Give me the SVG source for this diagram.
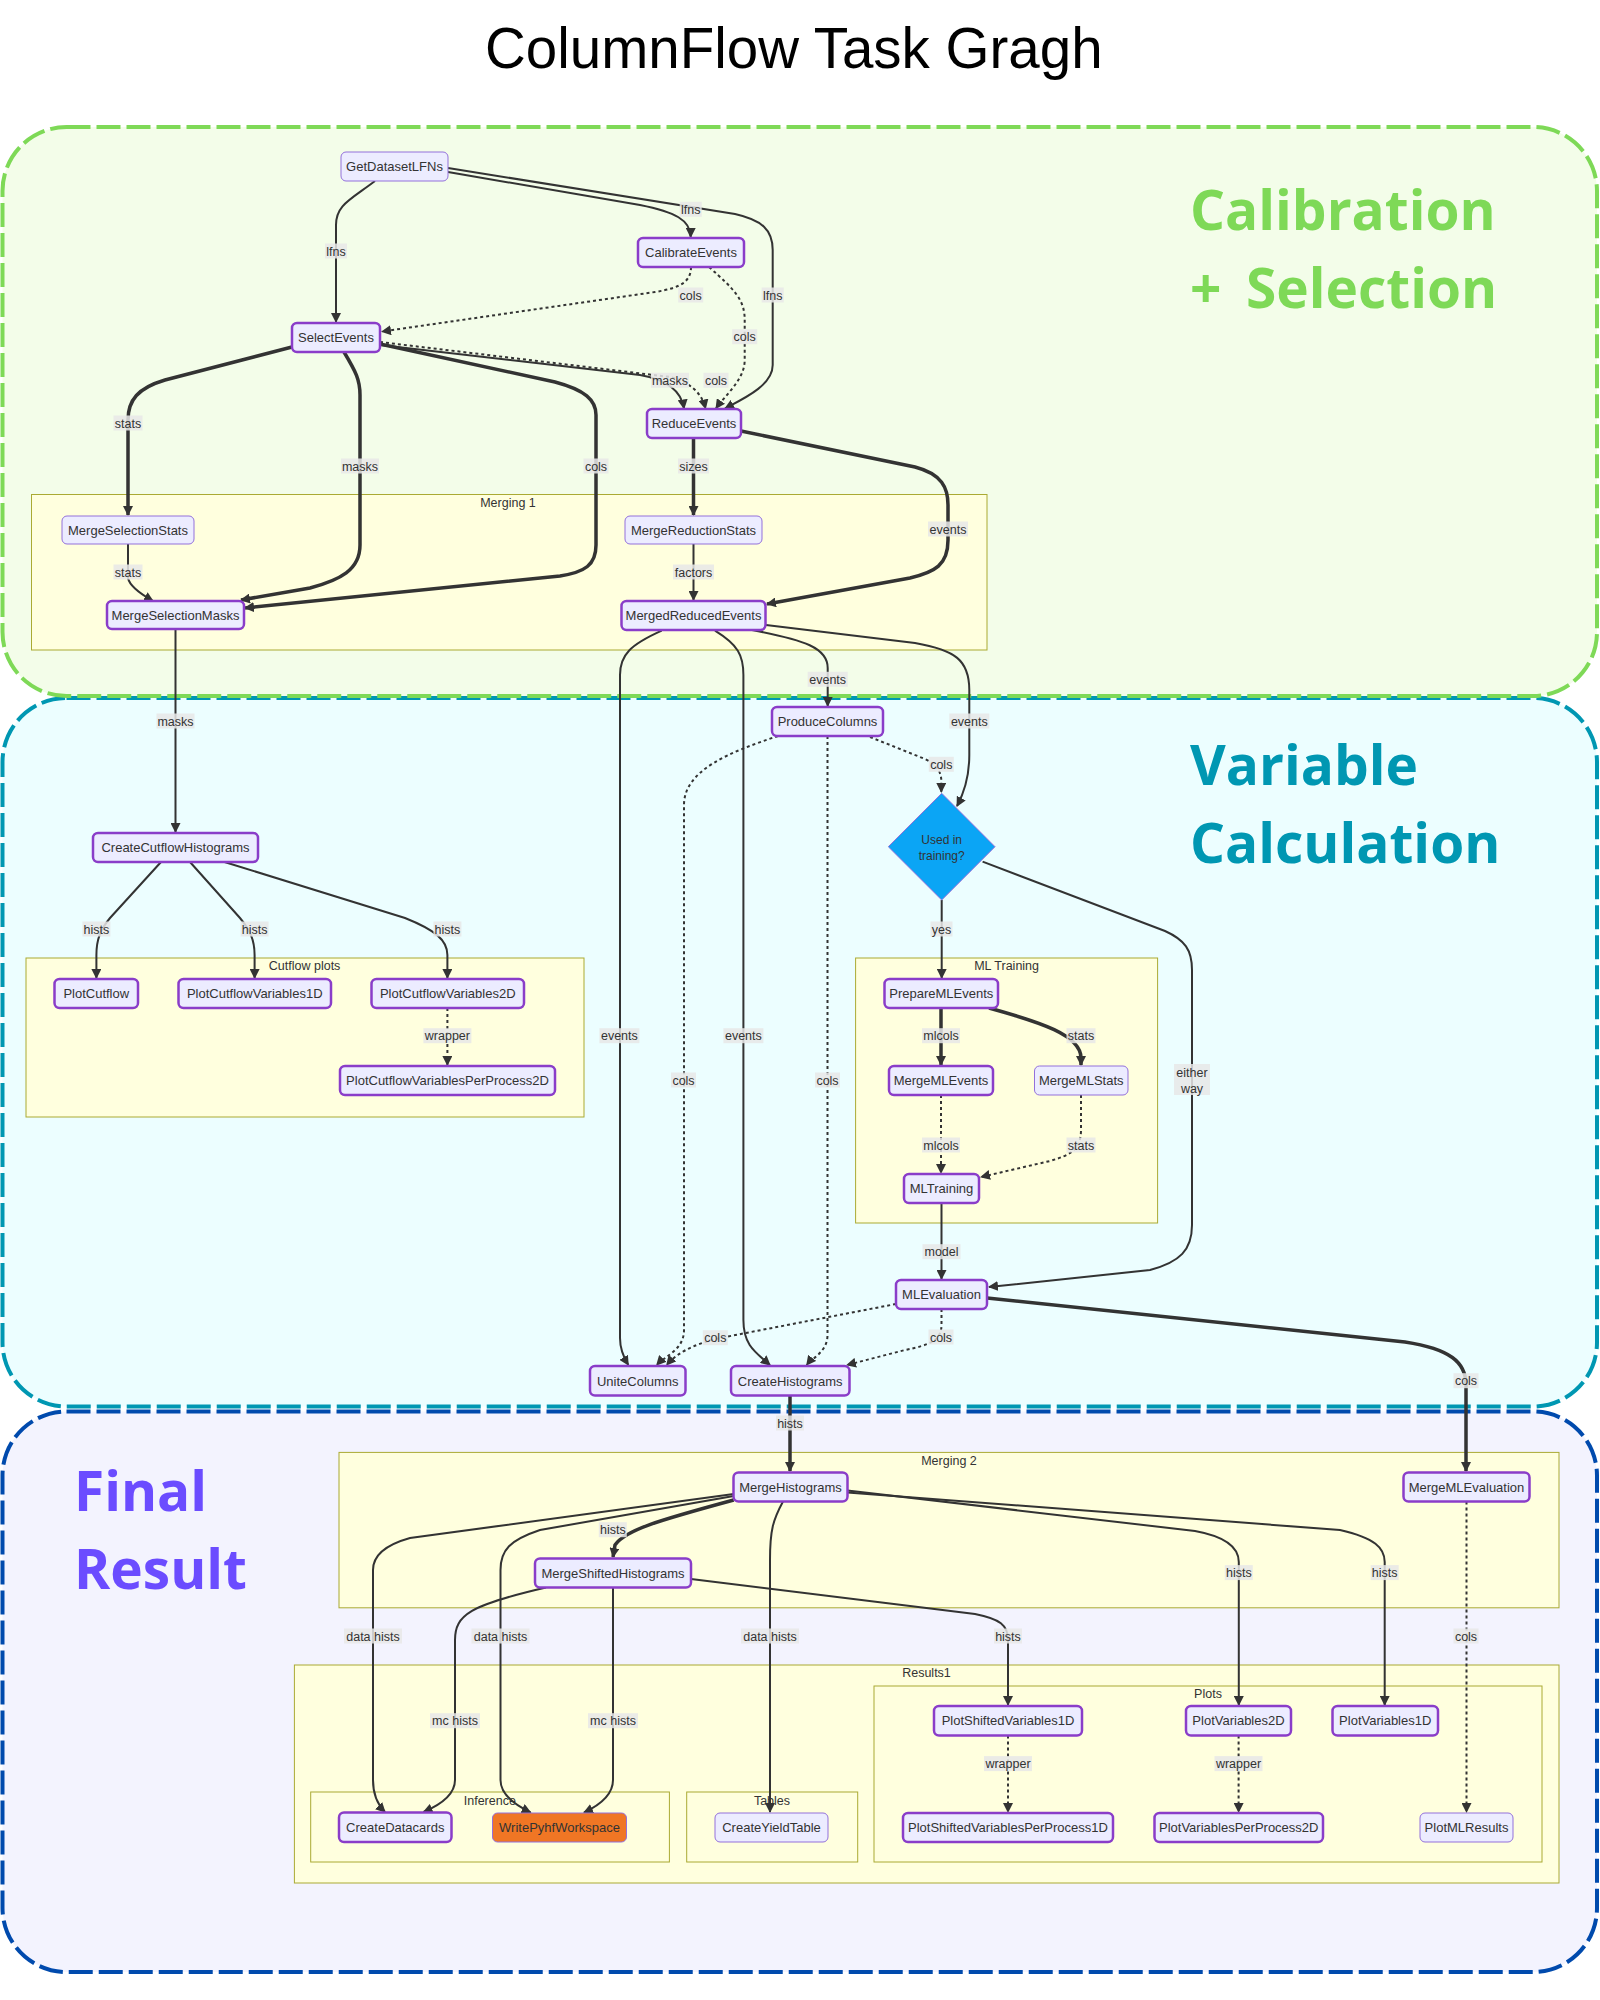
<svg xmlns="http://www.w3.org/2000/svg" width="1600" height="2000" viewBox="0 0 1600 2000">
<defs>
<style>
.nt{font-family:"Liberation Sans",Arial,sans-serif;font-size:13px;fill:#333;text-anchor:middle}
.thick{fill:#ECECFF;stroke:#8a3dc9;stroke-width:2.5}
.light{fill:#ECECFF;stroke:#9370DB;stroke-width:1}
.orange{fill:#f07624;stroke:#9370DB;stroke-width:1}
.sg{fill:#ffffde;stroke:#aaaa33;stroke-width:1}
.sgt{font-family:"Liberation Sans",Arial,sans-serif;font-size:12.5px;fill:#333;text-anchor:middle}
.e{fill:none;stroke:#333;stroke-width:2;marker-end:url(#arr)}
.e.tk{stroke-width:3.5}
.e.dt{stroke-dasharray:3 3}
.lb rect{fill:#e8e8e8;fill-opacity:0.85}
.lb text{font-family:"Liberation Sans",Arial,sans-serif;font-size:12.5px;fill:#333;text-anchor:middle}
.big{font-family:"Open Sans","Noto Sans",sans-serif;font-weight:700;font-size:55px}
</style>
<marker id="arr" viewBox="0 0 10 10" refX="9" refY="5" markerUnits="userSpaceOnUse" markerWidth="10" markerHeight="10" orient="auto">
<path d="M0,0 L10,5 L0,10 z" fill="#333"/>
</marker>
</defs>
<rect width="1600" height="2000" fill="#ffffff"/>
<text x="485" y="68" font-family="Liberation Sans,Arial,sans-serif" font-size="56.5" fill="#000">ColumnFlow Task Gragh</text>

<g id="sections">
<rect x="2.5" y="1411.5" width="1594.5" height="560.5" rx="64" fill="#f3f3fe" stroke="#004aad" stroke-width="4" stroke-dasharray="24 6"/>
<rect x="2.5" y="698" width="1594.5" height="708.5" rx="64" fill="#ecfeff" stroke="#0097b2" stroke-width="4" stroke-dasharray="24 6"/>
<rect x="2.5" y="127" width="1594.5" height="569" rx="64" fill="#f3fde9" stroke="#7ed957" stroke-width="4" stroke-dasharray="24 6"/>
<text class="big" x="1190" y="230" fill="#7ed957">Calibration</text>
<text class="big" x="1190" y="308" fill="#7ed957">+<tspan x="1246">Selection</tspan></text>
<text class="big" x="1190" y="785" fill="#0097b2">Variable</text>
<text class="big" x="1190" y="863" fill="#0097b2">Calculation</text>
<text class="big" x="74" y="1511" fill="#6b4cff">Final</text>
<text class="big" x="74" y="1589" fill="#6b4cff">Result</text>
</g>

<g id="subgraphs">
<rect class="sg" x="31.5" y="494.5" width="955.5" height="155.5"/>
<text class="sgt" x="508" y="507">Merging 1</text>
<rect class="sg" x="26" y="958" width="558" height="159"/>
<text class="sgt" x="304.6" y="970">Cutflow plots</text>
<rect class="sg" x="855.6" y="958" width="302" height="265"/>
<text class="sgt" x="1006.6" y="970">ML Training</text>
<rect class="sg" x="339" y="1452.4" width="1220" height="155.4"/>
<text class="sgt" x="949" y="1464.5">Merging 2</text>
<rect class="sg" x="294.4" y="1665" width="1264.6" height="218"/>
<text class="sgt" x="926.5" y="1677">Results1</text>
<rect class="sg" x="310.7" y="1792" width="358.7" height="70"/>
<text class="sgt" x="489.8" y="1804.5">Inference</text>
<rect class="sg" x="686.7" y="1792" width="171" height="70"/>
<text class="sgt" x="772" y="1804.5">Tables</text>
<rect class="sg" x="874" y="1686" width="668" height="176"/>
<text class="sgt" x="1208" y="1698">Plots</text>
</g>

<g id="connectors">
<path class="e" d="M375,181 C350,200 336,205 336,225 L336,322"/>
<path class="e" d="M448,172 L640,205 C675,212 690.7,220 690.7,237"/>
<path class="e" d="M448,168 L735,214 C762,220 772.7,230 772.7,250 L772.7,365 C772.7,385 745,398 725,408.5"/>
<path class="e dt" d="M691,267 C691,282 680,288 655,292 L382,331.5"/>
<path class="e dt" d="M709,267 C735,290 744.7,300 744.7,320 L744.7,360 C744.7,380 725,395 716,408.5"/>
<path class="e" d="M380,345 L640,375 Q680,382 684,408.5"/>
<path class="e dt" d="M380,342 L670,377 Q700,385 705.5,408.5"/>
<path class="e tk" d="M292,347 L165,380 C138,388 128,400 128,420 L128,515"/>
<path class="e tk" d="M344,352 C356,372 360,380 360,395 L360,545 C360,570 340,580 310,588 L241,600"/>
<path class="e tk" d="M380,344 L555,382 C585,390 596,400 596,415 L596,545 C596,565 585,572 560,576 L245,608"/>
<path class="e tk" d="M693.5,438 L693.5,515"/>
<path class="e tk" d="M741,431 L915,467 C942,474 948,488 948,505 L948,540 C948,565 935,572 910,578 L767,604"/>
<path class="e" d="M128,544 L128,578 Q130,588 153,601"/>
<path class="e" d="M693.5,544 L693.5,600"/>
<path class="e" d="M752,630 C805,640 827.7,648 827.7,668 L827.7,706"/>
<path class="e" d="M661.7,630.7 C630,645 620,655 620,675 L620,1338 C620,1350 624,1358 628.3,1365"/>
<path class="e" d="M715,630.7 C738,645 743.4,655 743.4,675 L743.4,1320 C743.4,1345 755,1352 770,1365"/>
<path class="e" d="M766,625 L915,643 C955,650 969.3,660 969.3,690 L969.3,755 C969.3,778 964,793 957,806"/>
<path class="e dt" d="M870,737 L925,759 C937,765 941.3,772 941.3,781 L941.3,792"/>
<path class="e dt" d="M778,736 C730,752 684,770 684,805 L684,1330 C684,1350 665,1356 656.7,1365"/>
<path class="e dt" d="M827.5,736 L827.5,1335 C827.5,1352 812,1358 806.7,1365"/>
<path class="e" d="M941.7,900 L941.7,978"/>
<path class="e" d="M982.6,861.6 L1165,931 C1185,940 1192,950 1192,970 L1192,1225 C1192,1250 1180,1262 1150,1270 L989,1287"/>
<path class="e tk" d="M941,1008 L941,1065"/>
<path class="e tk" d="M989,1008 C1040,1022 1081,1035 1081,1058 L1081,1065"/>
<path class="e dt" d="M941,1095 L941,1173"/>
<path class="e dt" d="M1081,1095 L1081,1130 C1081,1150 1070,1155 1050,1161 L981,1177"/>
<path class="e" d="M941.5,1203 L941.5,1279"/>
<path class="e dt" d="M896,1304 L720,1338 C690,1345 675,1355 666.7,1365"/>
<path class="e dt" d="M941.5,1309 L941.5,1325 C941.5,1340 930,1345 905,1350 L847,1365"/>
<path class="e tk" d="M987,1298 L1405,1342 C1450,1349 1466,1362 1466,1385 L1466,1471"/>
<path class="e" d="M161,862 L110,918 C100,930 96.4,940 96.4,955 L96.4,978"/>
<path class="e" d="M190,862 L240,918 C250,930 254.6,940 254.6,955 L254.6,978"/>
<path class="e" d="M224.5,862 L405,918 C435,930 447.4,940 447.4,955 L447.4,978"/>
<path class="e dt" d="M447.4,1008 L447.4,1065"/>
<path class="e" d="M175.5,629 L175.5,832"/>
<path class="e tk" d="M790,1396 L790,1471"/>
<path class="e" d="M733.7,1494 L410,1538 C385,1545 373,1555 373,1570 L373,1780 C373,1795 378,1805 385,1812"/>
<path class="e" d="M733.7,1496 L540,1530 C510,1540 500.5,1550 500.5,1570 L500.5,1780 C500.5,1795 515,1805 530.6,1812.5"/>
<path class="e tk" d="M733.7,1500 C660,1520 625,1530 615,1545 L613,1557"/>
<path class="e" d="M783,1501.5 C773,1520 770,1530 770,1560 L770,1812"/>
<path class="e" d="M847.4,1490.5 L1195,1531 C1228,1537 1238.8,1548 1238.8,1562 L1238.8,1705"/>
<path class="e" d="M847.4,1492.5 L1340,1530 C1375,1538 1384.7,1548 1384.7,1562 L1384.7,1705"/>
<path class="e" d="M546,1587.5 C470,1605 455,1615 455,1640 L455,1780 C455,1795 440,1805 423.5,1812"/>
<path class="e" d="M613,1587.5 L613,1780 C613,1795 600,1805 584,1812.5"/>
<path class="e" d="M691,1579 L975,1614 C1000,1619 1008,1625 1008,1640 L1008,1705"/>
<path class="e dt" d="M1008,1735.6 L1008,1812"/>
<path class="e dt" d="M1238.6,1735.6 L1238.6,1812"/>
<path class="e dt" d="M1466.5,1501.5 L1466.5,1812"/>
</g>

<g id="edge-labels">
<g class="lb"><rect x="325" y="243.5" width="22" height="15"/><text x="336" y="255.5">lfns</text></g>
<g class="lb"><rect x="679.7" y="201.8" width="22" height="15"/><text x="690.7" y="213.8">lfns</text></g>
<g class="lb"><rect x="761.7" y="287.5" width="22" height="15"/><text x="772.7" y="299.5">lfns</text></g>
<g class="lb"><rect x="678.2" y="287.5" width="25" height="15"/><text x="690.7" y="299.5">cols</text></g>
<g class="lb"><rect x="732.2" y="329.2" width="25" height="15"/><text x="744.7" y="341.2">cols</text></g>
<g class="lb"><rect x="651" y="372.8" width="38" height="15"/><text x="670" y="384.8">masks</text></g>
<g class="lb"><rect x="703.5" y="372.8" width="25" height="15"/><text x="716" y="384.8">cols</text></g>
<g class="lb"><rect x="113.5" y="415.5" width="29" height="15"/><text x="128" y="427.5">stats</text></g>
<g class="lb"><rect x="341" y="458.5" width="38" height="15"/><text x="360" y="470.5">masks</text></g>
<g class="lb"><rect x="583.5" y="458.5" width="25" height="15"/><text x="596" y="470.5">cols</text></g>
<g class="lb"><rect x="678" y="458.5" width="31" height="15"/><text x="693.5" y="470.5">sizes</text></g>
<g class="lb"><rect x="928" y="521.5" width="40" height="15"/><text x="948" y="533.5">events</text></g>
<g class="lb"><rect x="113.5" y="564.5" width="29" height="15"/><text x="128" y="576.5">stats</text></g>
<g class="lb"><rect x="673" y="564.5" width="41" height="15"/><text x="693.5" y="576.5">factors</text></g>
<g class="lb"><rect x="807.7" y="671.8" width="40" height="15"/><text x="827.7" y="683.8">events</text></g>
<g class="lb"><rect x="949.3" y="713.5" width="40" height="15"/><text x="969.3" y="725.5">events</text></g>
<g class="lb"><rect x="928.8" y="756.8" width="25" height="15"/><text x="941.3" y="768.8">cols</text></g>
<g class="lb"><rect x="156.5" y="713.5" width="38" height="15"/><text x="175.5" y="725.5">masks</text></g>
<g class="lb"><rect x="82.4" y="921.5" width="28" height="15"/><text x="96.4" y="933.5">hists</text></g>
<g class="lb"><rect x="240.6" y="921.5" width="28" height="15"/><text x="254.6" y="933.5">hists</text></g>
<g class="lb"><rect x="433.4" y="921.5" width="28" height="15"/><text x="447.4" y="933.5">hists</text></g>
<g class="lb"><rect x="423.4" y="1028.2" width="48" height="15"/><text x="447.4" y="1040.2">wrapper</text></g>
<g class="lb"><rect x="599.4" y="1028.2" width="40" height="15"/><text x="619.4" y="1040.2">events</text></g>
<g class="lb"><rect x="723.4" y="1028.2" width="40" height="15"/><text x="743.4" y="1040.2">events</text></g>
<g class="lb"><rect x="671" y="1072.5" width="25" height="15"/><text x="683.5" y="1084.5">cols</text></g>
<g class="lb"><rect x="815" y="1072.5" width="25" height="15"/><text x="827.5" y="1084.5">cols</text></g>
<g class="lb"><rect x="930.5" y="921.5" width="22" height="15"/><text x="941.5" y="933.5">yes</text></g>
<g class="lb"><rect x="922" y="1028.2" width="38" height="15"/><text x="941" y="1040.2">mlcols</text></g>
<g class="lb"><rect x="1066.5" y="1028.2" width="29" height="15"/><text x="1081" y="1040.2">stats</text></g>
<g class="lb"><rect x="1174" y="1064" width="36" height="31"/><text x="1192" y="1076.5">either</text><text x="1192" y="1092.5">way</text></g>
<g class="lb"><rect x="922" y="1137.5" width="38" height="15"/><text x="941" y="1149.5">mlcols</text></g>
<g class="lb"><rect x="1066.5" y="1137.5" width="29" height="15"/><text x="1081" y="1149.5">stats</text></g>
<g class="lb"><rect x="922.5" y="1244.2" width="38" height="15"/><text x="941.5" y="1256.2">model</text></g>
<g class="lb"><rect x="702.8" y="1330.2" width="25" height="15"/><text x="715.3" y="1342.2">cols</text></g>
<g class="lb"><rect x="928.5" y="1329.5" width="25" height="15"/><text x="941" y="1341.5">cols</text></g>
<g class="lb"><rect x="1453.5" y="1373.2" width="25" height="15"/><text x="1466" y="1385.2">cols</text></g>
<g class="lb"><rect x="776" y="1415.5" width="28" height="15"/><text x="790" y="1427.5">hists</text></g>
<g class="lb"><rect x="598.8" y="1522.2" width="28" height="15"/><text x="612.8" y="1534.2">hists</text></g>
<g class="lb"><rect x="1224.8" y="1565.1" width="28" height="15"/><text x="1238.8" y="1577.1">hists</text></g>
<g class="lb"><rect x="1370.7" y="1565.1" width="28" height="15"/><text x="1384.7" y="1577.1">hists</text></g>
<g class="lb"><rect x="344" y="1628.5" width="58" height="15"/><text x="373" y="1640.5">data hists</text></g>
<g class="lb"><rect x="471.5" y="1628.5" width="58" height="15"/><text x="500.5" y="1640.5">data hists</text></g>
<g class="lb"><rect x="741" y="1628.5" width="58" height="15"/><text x="770" y="1640.5">data hists</text></g>
<g class="lb"><rect x="994" y="1628.5" width="28" height="15"/><text x="1008" y="1640.5">hists</text></g>
<g class="lb"><rect x="1453.5" y="1628.5" width="25" height="15"/><text x="1466" y="1640.5">cols</text></g>
<g class="lb"><rect x="430" y="1713.2" width="50" height="15"/><text x="455" y="1725.2">mc hists</text></g>
<g class="lb"><rect x="588" y="1713.2" width="50" height="15"/><text x="613" y="1725.2">mc hists</text></g>
<g class="lb"><rect x="984" y="1756.1" width="48" height="15"/><text x="1008" y="1768.1">wrapper</text></g>
<g class="lb"><rect x="1214.5" y="1756.1" width="48" height="15"/><text x="1238.5" y="1768.1">wrapper</text></g>
</g>

<g id="n-GetDatasetLFNs"><rect class="light" x="341" y="152" width="107" height="29" rx="5"/><text class="nt" x="394.5" y="171">GetDatasetLFNs</text></g>
<g id="n-CalibrateEvents"><rect class="thick" x="638" y="238" width="106" height="29" rx="5"/><text class="nt" x="691" y="257">CalibrateEvents</text></g>
<g id="n-SelectEvents"><rect class="thick" x="292" y="323" width="88" height="29" rx="5"/><text class="nt" x="336" y="342">SelectEvents</text></g>
<g id="n-ReduceEvents"><rect class="thick" x="647" y="409" width="94" height="29" rx="5"/><text class="nt" x="694" y="428">ReduceEvents</text></g>
<g id="n-MergeSelectionStats"><rect class="light" x="62" y="516" width="132" height="28" rx="5"/><text class="nt" x="128" y="534.5">MergeSelectionStats</text></g>
<g id="n-MergeSelectionMasks"><rect class="thick" x="107" y="601" width="137" height="28" rx="5"/><text class="nt" x="175.5" y="619.5">MergeSelectionMasks</text></g>
<g id="n-MergeReductionStats"><rect class="light" x="625" y="516" width="137" height="28" rx="5"/><text class="nt" x="693.5" y="534.5">MergeReductionStats</text></g>
<g id="n-MergedReducedEvents"><rect class="thick" x="621.5" y="601" width="144" height="29" rx="5"/><text class="nt" x="693.5" y="620">MergedReducedEvents</text></g>
<g id="n-ProduceColumns"><rect class="thick" x="772" y="707" width="111" height="29" rx="5"/><text class="nt" x="827.5" y="726">ProduceColumns</text></g>
<g id="n-UsedInTraining"><polygon points="941.7,793.3 995,846.7 941.7,900 888.3,846.7" fill="#0ba5f5" stroke="#9370DB" stroke-width="1"/><text class="nt" x="941.7" y="843.5" style="font-size:12px">Used in</text><text class="nt" x="941.7" y="859.5" style="font-size:12px">training?</text></g>
<g id="n-CreateCutflowHistograms"><rect class="thick" x="93" y="833" width="165" height="29" rx="5"/><text class="nt" x="175.5" y="852">CreateCutflowHistograms</text></g>
<g id="n-PlotCutflow"><rect class="thick" x="54.5" y="979" width="83.5" height="29" rx="5"/><text class="nt" x="96.25" y="998">PlotCutflow</text></g>
<g id="n-PlotCutflowVariables1D"><rect class="thick" x="178.5" y="979" width="152.5" height="29" rx="5"/><text class="nt" x="254.75" y="998">PlotCutflowVariables1D</text></g>
<g id="n-PlotCutflowVariables2D"><rect class="thick" x="371.5" y="979" width="152.5" height="29" rx="5"/><text class="nt" x="447.75" y="998">PlotCutflowVariables2D</text></g>
<g id="n-PlotCutflowVariablesPerProcess2D"><rect class="thick" x="340" y="1066" width="215" height="29" rx="5"/><text class="nt" x="447.5" y="1085">PlotCutflowVariablesPerProcess2D</text></g>
<g id="n-PrepareMLEvents"><rect class="thick" x="884.5" y="979" width="113.5" height="29" rx="5"/><text class="nt" x="941.25" y="998">PrepareMLEvents</text></g>
<g id="n-MergeMLEvents"><rect class="thick" x="889" y="1066" width="104" height="29" rx="5"/><text class="nt" x="941" y="1085">MergeMLEvents</text></g>
<g id="n-MergeMLStats"><rect class="light" x="1034.5" y="1066" width="93.5" height="29" rx="5"/><text class="nt" x="1081.25" y="1085">MergeMLStats</text></g>
<g id="n-MLTraining"><rect class="thick" x="904" y="1174" width="75" height="29" rx="5"/><text class="nt" x="941.5" y="1193">MLTraining</text></g>
<g id="n-MLEvaluation"><rect class="thick" x="896" y="1280" width="91" height="29" rx="5"/><text class="nt" x="941.5" y="1299">MLEvaluation</text></g>
<g id="n-UniteColumns"><rect class="thick" x="590" y="1366" width="95.5" height="29.5" rx="5"/><text class="nt" x="637.75" y="1385.5">UniteColumns</text></g>
<g id="n-CreateHistograms"><rect class="thick" x="731" y="1366" width="118.5" height="29.5" rx="5"/><text class="nt" x="790.25" y="1385.5">CreateHistograms</text></g>
<g id="n-MergeHistograms"><rect class="thick" x="733.5" y="1472.5" width="114" height="29" rx="5"/><text class="nt" x="790.5" y="1491.5">MergeHistograms</text></g>
<g id="n-MergeMLEvaluation"><rect class="thick" x="1403.5" y="1472.5" width="126" height="29" rx="5"/><text class="nt" x="1466.5" y="1491.5">MergeMLEvaluation</text></g>
<g id="n-MergeShiftedHistograms"><rect class="thick" x="535" y="1558.5" width="156" height="29" rx="5"/><text class="nt" x="613" y="1577.5">MergeShiftedHistograms</text></g>
<g id="n-CreateDatacards"><rect class="thick" x="339" y="1812.5" width="112.5" height="29.5" rx="5"/><text class="nt" x="395.25" y="1832">CreateDatacards</text></g>
<g id="n-WritePyhfWorkspace"><rect class="orange" x="492.5" y="1813" width="134" height="29" rx="5"/><text class="nt" x="559.5" y="1832">WritePyhfWorkspace</text></g>
<g id="n-CreateYieldTable"><rect class="light" x="715" y="1813" width="113" height="29" rx="5"/><text class="nt" x="771.5" y="1832">CreateYieldTable</text></g>
<g id="n-PlotShiftedVariables1D"><rect class="thick" x="934" y="1706" width="148" height="29.5" rx="5"/><text class="nt" x="1008" y="1725.25">PlotShiftedVariables1D</text></g>
<g id="n-PlotVariables2D"><rect class="thick" x="1186" y="1706" width="105" height="29.5" rx="5"/><text class="nt" x="1238.5" y="1725.25">PlotVariables2D</text></g>
<g id="n-PlotVariables1D"><rect class="thick" x="1332.5" y="1706" width="105.5" height="29.5" rx="5"/><text class="nt" x="1385.25" y="1725.25">PlotVariables1D</text></g>
<g id="n-PlotShiftedVariablesPerProcess1D"><rect class="thick" x="903" y="1813" width="210" height="29" rx="5"/><text class="nt" x="1008" y="1832">PlotShiftedVariablesPerProcess1D</text></g>
<g id="n-PlotVariablesPerProcess2D"><rect class="thick" x="1154.5" y="1813" width="168.5" height="29" rx="5"/><text class="nt" x="1238.75" y="1832">PlotVariablesPerProcess2D</text></g>
<g id="n-PlotMLResults"><rect class="light" x="1420" y="1813" width="93" height="29" rx="5"/><text class="nt" x="1466.5" y="1832">PlotMLResults</text></g>
</svg>
